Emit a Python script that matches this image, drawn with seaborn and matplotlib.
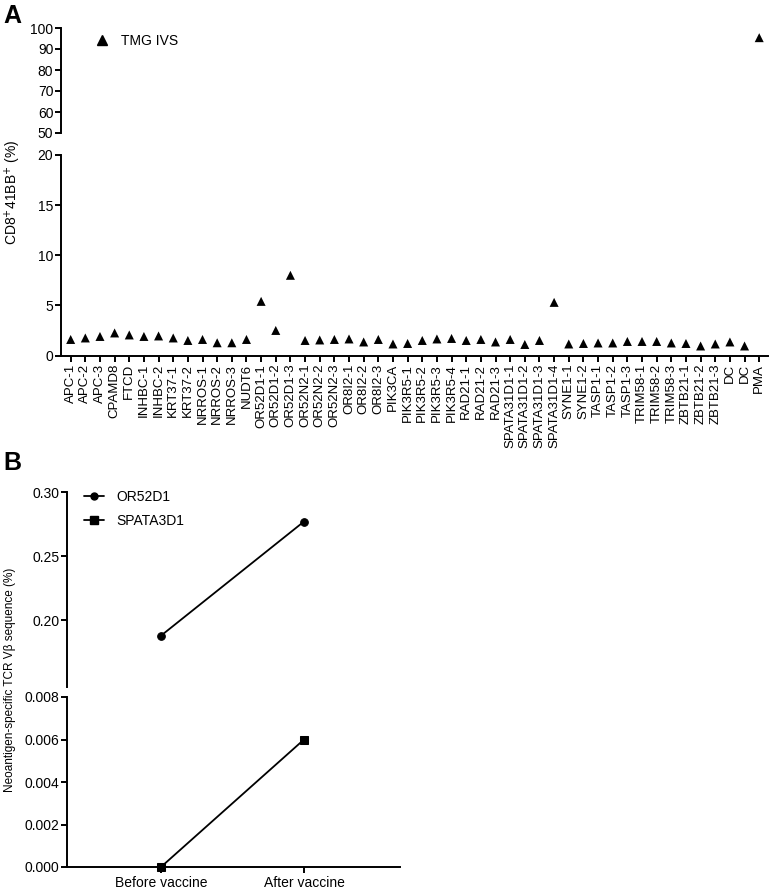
import numpy as np
import pandas as pd
import matplotlib
matplotlib.use("Agg")
import matplotlib.pyplot as plt
from matplotlib.lines import Line2D
import seaborn as sns

sns.set_style("ticks")
plt.rcParams['font.family'] = ['Liberation Sans', 'DejaVu Sans']
plt.rcParams['text.color'] = 'black'
plt.rcParams['axes.labelcolor'] = 'black'
plt.rcParams['xtick.color'] = 'black'
plt.rcParams['ytick.color'] = 'black'
plt.rcParams['axes.edgecolor'] = 'black'

# ---------------- data ----------------
peptides = ["APC-1", "APC-2", "APC-3", "CPAMD8", "FTCD", "INHBC-1", "INHBC-2",
            "KRT37-1", "KRT37-2", "NRROS-1", "NRROS-2", "NRROS-3", "NUDT6",
            "OR52D1-1", "OR52D1-2", "OR52D1-3", "OR52N2-1", "OR52N2-2", "OR52N2-3",
            "OR8I2-1", "OR8I2-2", "OR8I2-3", "PIK3CA", "PIK3R5-1", "PIK3R5-2",
            "PIK3R5-3", "PIK3R5-4", "RAD21-1", "RAD21-2", "RAD21-3",
            "SPATA31D1-1", "SPATA31D1-2", "SPATA31D1-3", "SPATA31D1-4",
            "SYNE1-1", "SYNE1-2", "TASP1-1", "TASP1-2", "TASP1-3",
            "TRIM58-1", "TRIM58-2", "TRIM58-3", "ZBTB21-1", "ZBTB21-2", "ZBTB21-3",
            "DC", "DC", "PMA"]
cd8_41bb = [1.6, 1.75, 1.9, 2.25, 2.05, 1.9, 1.95,
            1.75, 1.5, 1.6, 1.27, 1.27, 1.6,
            5.4, 2.5, 8.0, 1.5, 1.55, 1.6,
            1.65, 1.35, 1.6, 1.15, 1.2, 1.5,
            1.65, 1.7, 1.5, 1.6, 1.35,
            1.6, 1.1, 1.5, 5.3,
            1.15, 1.2, 1.25, 1.25, 1.4,
            1.4, 1.4, 1.25, 1.2, 0.95, 1.15,
            1.35, 0.95, 95.4]

timepoints = ["Before vaccine", "After vaccine"]
or52d1 = [0.188, 0.277]
spata3d1 = [0.0, 0.006]

# ---------------- figure ----------------
W, H = 770, 891
fig = plt.figure(figsize=(W / 100, H / 100), dpi=100)

def ax_px(x0, y0, x1, y1):
    return fig.add_axes([x0 / W, 1 - y1 / H, (x1 - x0) / W, (y1 - y0) / H])

axA_top = ax_px(61, 28, 768, 133)
axA_bot = ax_px(61, 155, 768, 355.5)
axB_top = ax_px(67, 492, 400, 687)
axB_bot = ax_px(67, 697, 400, 867)

tick_fs = 10
lw = 1.4

def style_axis(ax):
    ax.set_xlabel("")
    ax.set_ylabel("")
    for sp in ("top", "right"):
        ax.spines[sp].set_visible(False)
    ax.spines["left"].set_linewidth(lw)
    ax.spines["bottom"].set_linewidth(lw)
    ax.tick_params(axis="both", direction="out", length=4, width=lw,
                   labelsize=tick_fs, pad=1.5, colors="black",
                   left=True, bottom=True)

dfA = pd.DataFrame({"pos": np.arange(len(peptides)), "val": cd8_41bb})
for ax in (axA_top, axA_bot):
    sns.scatterplot(data=dfA, x="pos", y="val", marker="^", color="black",
                    s=42, edgecolor="none", ax=ax, legend=False, zorder=3)
    ax.set_xlim(-0.66, 47.6)
    style_axis(ax)

axA_top.set_ylim(50, 100)
axA_top.set_yticks([50, 60, 70, 80, 90, 100])
axA_top.spines["bottom"].set_visible(False)
axA_top.set_xticks([])

axA_bot.set_ylim(0, 20)
axA_bot.set_yticks([0, 5, 10, 15, 20])
axA_bot.set_xticks(np.arange(len(peptides)))
axA_bot.set_xticklabels(peptides, rotation=90, fontsize=9.5)
axA_bot.tick_params(axis="x", pad=2)

# Legend A
axA_top.legend(handles=[Line2D([], [], marker="^", color="black", linestyle="none",
                               markersize=7)],
               labels=["TMG IVS"], loc="upper left", frameon=False,
               bbox_to_anchor=(0.03, 1.0), fontsize=10, handletextpad=0.4,
               borderaxespad=0)

fig.text(13 / W, 1 - 192 / H, r"CD8$^{+}$41BB$^{+}$ (%)", rotation=90,
         ha="center", va="center", fontsize=10)
fig.text(3 / W, 1 - 16 / H, "A", fontsize=18, fontweight="bold", ha="left", va="center")

# ---------------- panel B ----------------
dfB = pd.DataFrame({
    "t": [0, 1, 0, 1],
    "val": or52d1 + spata3d1,
    "gene": ["OR52D1", "OR52D1", "SPATA3D1", "SPATA3D1"],
})
sns.lineplot(data=dfB[dfB.gene == "OR52D1"], x="t", y="val", color="black",
             marker="o", markersize=5.5, markeredgecolor="black", linewidth=1.3,
             ax=axB_top, legend=False)
sns.lineplot(data=dfB[dfB.gene == "SPATA3D1"], x="t", y="val", color="black",
             marker="s", markersize=6, markeredgecolor="black", linewidth=1.3,
             ax=axB_bot, legend=False, clip_on=False, zorder=4)

for ax in (axB_top, axB_bot):
    ax.set_xlim(-0.657, 1.671)
    style_axis(ax)

axB_top.set_ylim(0.148, 0.30)
axB_top.set_yticks([0.20, 0.25, 0.30])
axB_top.set_yticklabels(["0.20", "0.25", "0.30"])
axB_top.spines["bottom"].set_visible(False)
axB_top.set_xticks([])

axB_bot.set_ylim(0, 0.008)
axB_bot.set_yticks([0.0, 0.002, 0.004, 0.006, 0.008])
axB_bot.set_yticklabels(["0.000", "0.002", "0.004", "0.006", "0.008"])
axB_bot.set_xticks([0, 1])
axB_bot.set_xticklabels(timepoints, fontsize=10)
axB_bot.tick_params(axis="x", pad=2.5)

axB_top.legend(
    handles=[Line2D([], [], marker="o", color="black", markersize=5, linewidth=1.3),
             Line2D([], [], marker="s", color="black", markersize=5.5, linewidth=1.3)],
    labels=["OR52D1", "SPATA3D1"], loc="upper left", frameon=False,
    bbox_to_anchor=(0.035, 1.04), fontsize=10, handlelength=1.4,
    handletextpad=0.9, labelspacing=0.75, borderaxespad=0)

fig.text(10 / W, 1 - 680 / H, "Neoantigen-specific TCR V\u03b2 sequence (%)",
         rotation=90, ha="center", va="center", fontsize=8.5)
fig.text(3 / W, 1 - 463 / H, "B", fontsize=18, fontweight="bold", ha="left", va="center")

fig.savefig("out.png", dpi=100)
